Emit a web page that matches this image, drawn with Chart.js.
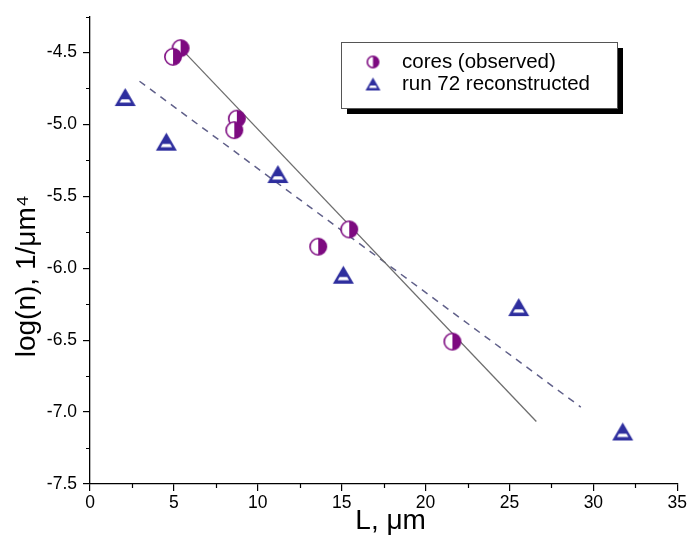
<!DOCTYPE html>
<html><head><meta charset="utf-8">
<script src="https://cdn.jsdelivr.net/npm/chart.js@4.4.0/dist/chart.umd.min.js"></script>
<style>html,body{margin:0;padding:0;background:#fff}#wrap{width:689px;height:552px}</style>
</head><body><div id="wrap"><canvas id="c" width="689" height="552"></canvas></div>
<script>
// ---- data ----
const seriesLabels = ['cores (observed)', 'run 72 reconstructed'];
const coresX = [5.4, 4.95, 8.75, 8.6, 15.45, 13.6, 21.6];
const coresY = [-4.47, -4.53, -4.96, -5.04, -5.73, -5.85, -6.51];
const runX = [2.1, 4.55, 11.2, 15.1, 25.55, 31.75];
const runY = [-4.81, -5.12, -5.345, -6.045, -6.27, -7.135];
const fitCoresX = [5.4, 26.6];
const fitCoresY = [-4.47, -7.065];
const fitRunX = [2.95, 29.25];
const fitRunY = [-4.70, -6.965];
const xTickValues = [0, 5, 10, 15, 20, 25, 30, 35];
const yTickValues = [-7.5, -7.0, -6.5, -6.0, -5.5, -5.0, -4.5];
const xTitle = 'L, \u03bcm';
const yTitle = 'log(n), 1/\u03bcm\u2074';

const PURPLE = '#7d0a80';
const BLUE = '#2e2e9e';
const FONT = '"Liberation Sans", Arial, sans-serif';

function makeCircle(d) {
  const c = document.createElement('canvas');
  c.width = d + 2; c.height = d + 2;
  const g = c.getContext('2d');
  const cx = c.width / 2, cy = c.height / 2, r = d / 2 - 0.8;
  g.fillStyle = '#fff';
  g.beginPath(); g.arc(cx, cy, r, 0, Math.PI * 2); g.fill();
  g.fillStyle = PURPLE;
  g.beginPath(); g.arc(cx, cy, r, -Math.PI / 2, Math.PI / 2); g.closePath(); g.fill();
  g.strokeStyle = PURPLE; g.lineWidth = 1.6;
  g.beginPath(); g.arc(cx, cy, r, 0, Math.PI * 2); g.stroke();
  return c;
}
function makeTriangle(w, h) {
  const c = document.createElement('canvas');
  c.width = w + 2; c.height = h + 2;
  const g = c.getContext('2d');
  const top = 1, bot = h + 1, cx = c.width / 2;
  g.fillStyle = BLUE;
  g.beginPath(); g.moveTo(cx, top); g.lineTo(cx + w / 2, bot); g.lineTo(cx - w / 2, bot); g.closePath(); g.fill();
  const y1 = top + h * 0.62, y2 = top + h * 0.80, inset = w * 0.13;
  const hw = y => (y - top) / h * (w / 2) - inset;
  g.fillStyle = '#fff';
  g.beginPath();
  g.moveTo(cx - hw(y1), y1); g.lineTo(cx + hw(y1), y1);
  g.lineTo(cx + hw(y2), y2); g.lineTo(cx - hw(y2), y2);
  g.closePath(); g.fill();
  return c;
}
const circleImg = makeCircle(18);
const triImg = makeTriangle(21, 18);
const legCircleImg = makeCircle(13);
const legTriImg = makeTriangle(15, 13);

const toPts = (xs, ys) => xs.map((x, i) => ({x: x, y: ys[i]}));

const extras = {
  id: 'extras',
  afterDraw(chart) {
    const ctx = chart.ctx, xs = chart.scales.x, ys = chart.scales.y;
    ctx.save();
    ctx.strokeStyle = '#000'; ctx.lineWidth = 1.2;
    ctx.beginPath();
    for (let i = 0; i < xTickValues.length - 1; i++) {
      const v = (xTickValues[i] + xTickValues[i + 1]) / 2;
      const px = Math.round(xs.getPixelForValue(v)) + 0.5;
      ctx.moveTo(px, xs.top); ctx.lineTo(px, xs.top + 4);
    }
    const step = yTickValues[1] - yTickValues[0];
    for (let i = 0; i < yTickValues.length; i++) {
      const v = yTickValues[i] + step / 2;
      const py = Math.round(ys.getPixelForValue(v)) + 0.5;
      ctx.moveTo(ys.right - 4, py); ctx.lineTo(ys.right, py);
    }
    ctx.stroke();
    ctx.font = '28px ' + FONT;
    ctx.fillStyle = '#000';
    ctx.textAlign = 'center';
    ctx.textBaseline = 'middle';
    // x axis title
    ctx.fillText(xTitle, (xs.left + xs.right) / 2 + 7, 521);
    // y axis title
    ctx.translate(27, (ys.top + ys.bottom) / 2 + 26);
    ctx.rotate(-Math.PI / 2);
    ctx.fillText(yTitle, 0, 0);
    ctx.restore();
  }
};

const legendBox = {
  id: 'legendBox',
  afterDraw(chart) {
    const ctx = chart.ctx;
    const x = 341, y = 42, w = 276, h = 66;
    ctx.save();
    ctx.fillStyle = '#000';
    ctx.fillRect(x + 6, y + 6, w, h);
    ctx.fillStyle = '#fff';
    ctx.fillRect(x, y, w, h);
    ctx.strokeStyle = '#555'; ctx.lineWidth = 1;
    ctx.strokeRect(x + 0.5, y + 0.5, w, h);
    ctx.drawImage(legCircleImg, 373 - legCircleImg.width / 2, 62 - legCircleImg.height / 2);
    ctx.drawImage(legTriImg, 373 - legTriImg.width / 2, 84 - legTriImg.height / 2);
    ctx.font = '20.5px ' + FONT;
    ctx.fillStyle = '#000';
    ctx.textBaseline = 'middle';
    ctx.fillText(chart.data.datasets[0].label, 402, 62);
    ctx.fillText(chart.data.datasets[1].label, 402, 84);
    ctx.restore();
  }
};

new Chart(document.getElementById('c'), {
  type: 'scatter',
  data: {
    datasets: [
      {label: seriesLabels[0], data: toPts(coresX, coresY), pointStyle: circleImg, order: 0},
      {label: seriesLabels[1], data: toPts(runX, runY), pointStyle: triImg, order: 1},
      {label: 'fit cores', data: toPts(fitCoresX, fitCoresY), showLine: true, pointRadius: 0,
       borderColor: '#6e6e6e', borderWidth: 1.3, order: 3},
      {label: 'fit run 72', data: toPts(fitRunX, fitRunY), showLine: true, pointRadius: 0,
       borderColor: '#60608a', borderWidth: 1.5, borderDash: [7, 6], order: 3}
    ]
  },
  options: {
    responsive: false,
    animation: false,
    devicePixelRatio: 1,
    layout: {padding: {top: 5, right: 7, left: 0, bottom: 0}},
    plugins: {legend: {display: false}, tooltip: {enabled: false}},
    scales: {
      x: {
        type: 'linear', min: 0, max: 35,
        afterFit: s => { s.height = 68; },
        afterBuildTicks: s => { s.ticks = xTickValues.map(v => ({value: v})); },
        ticks: {font: {size: 17.5, family: FONT}, color: '#000', padding: 2,
                maxRotation: 0, callback: v => String(v)},
        grid: {display: true, drawOnChartArea: false, drawTicks: true, tickLength: 7,
               color: '#000', lineWidth: 1.2},
        border: {display: true, color: '#000', width: 1.3},
        title: {display: false, text: xTitle}
      },
      y: {
        type: 'linear', min: -7.5, max: -4.25,
        afterFit: s => { s.width = 90; },
        afterBuildTicks: s => { s.ticks = yTickValues.map(v => ({value: v})); },
        ticks: {font: {size: 17.5, family: FONT}, color: '#000', padding: 6,
                callback: v => v.toFixed(1)},
        grid: {display: true, drawOnChartArea: false, drawTicks: true, tickLength: 7,
               color: '#000', lineWidth: 1.2},
        border: {display: true, color: '#000', width: 1.3},
        title: {display: false, text: yTitle}
      }
    }
  },
  plugins: [extras, legendBox]
});
</script></body></html>
